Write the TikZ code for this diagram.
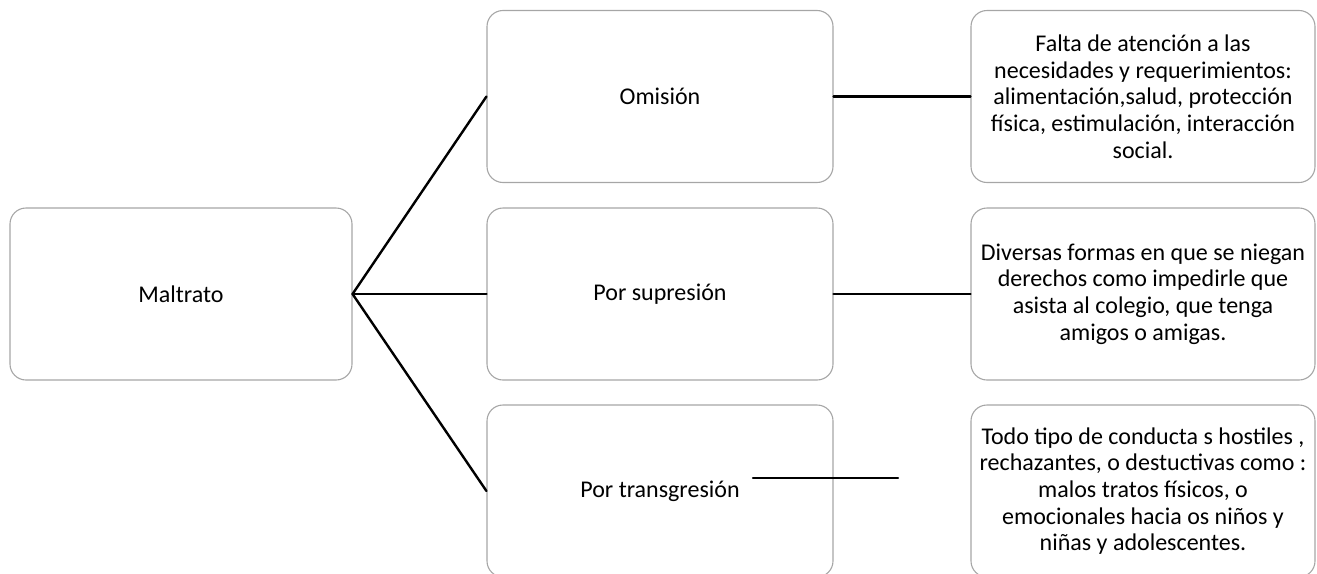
\documentclass[tikz,border=0pt]{standalone}
\usepackage{fontspec}
\setmainfont{Carlito}
\begin{document}
\begin{tikzpicture}[x=1pt,y=-1pt, line join=round, line cap=round,
	caja/.style={draw=gray!70, line width=1.1pt, rounded corners=16pt, minimum height=172pt, inner sep=0pt, align=center, font=\fontsize{24}{26.7}\selectfont},
	enlace/.style={line width=2.4pt}]
	\def\xa{181} \def\xb{660} \def\xc{1143} % columnas
	\def\ya{96.5} \def\yb{294} \def\yc{491} % filas
	\path[use as bounding box, clip] (0,0) rectangle (1317,573);
	\node[caja, minimum width=342pt] (mal) at (\xa,\yb) {Maltrato};
	\node[caja, minimum width=346pt] (om) at (\xb,\ya) {Omisión};
	\node[caja, minimum width=346pt] (sup) at (\xb,\yb) {Por supresión};
	\node[caja, minimum width=346pt] (tra) at (\xb,\yc) {Por transgresión};
	\node[caja, minimum width=344pt] (dom) at (\xc,\ya) {Falta de atención a las\\necesidades y requerimientos:\\alimentación,salud, protección\\física, estimulación, interacción\\social.};
	\node[caja, minimum width=344pt] (dsup) at (\xc,\yb) {Diversas formas en que se niegan\\derechos como impedirle que\\asista al colegio, que tenga\\amigos o amigas.};
	\node[caja, minimum width=344pt] (dtra) at (\xc,\yc) {Todo tipo de conducta s hostiles ,\\rechazantes, o destuctivas como :\\malos tratos físicos, o\\emocionales hacia os niños y\\niñas y adolescentes.};
	\coordinate (ta) at (753,478);
	\coordinate (tb) at (898,478);
	\foreach \n in {om,sup,tra}{
		\draw[enlace] (mal.east)--(\n.west);
	}
	\foreach \a/\b in {om/dom,sup/dsup}{
		\draw[enlace] (\a.east)--(\b.west);
	}
	\draw[enlace] (ta)--(tb);
\end{tikzpicture}
\end{document}
